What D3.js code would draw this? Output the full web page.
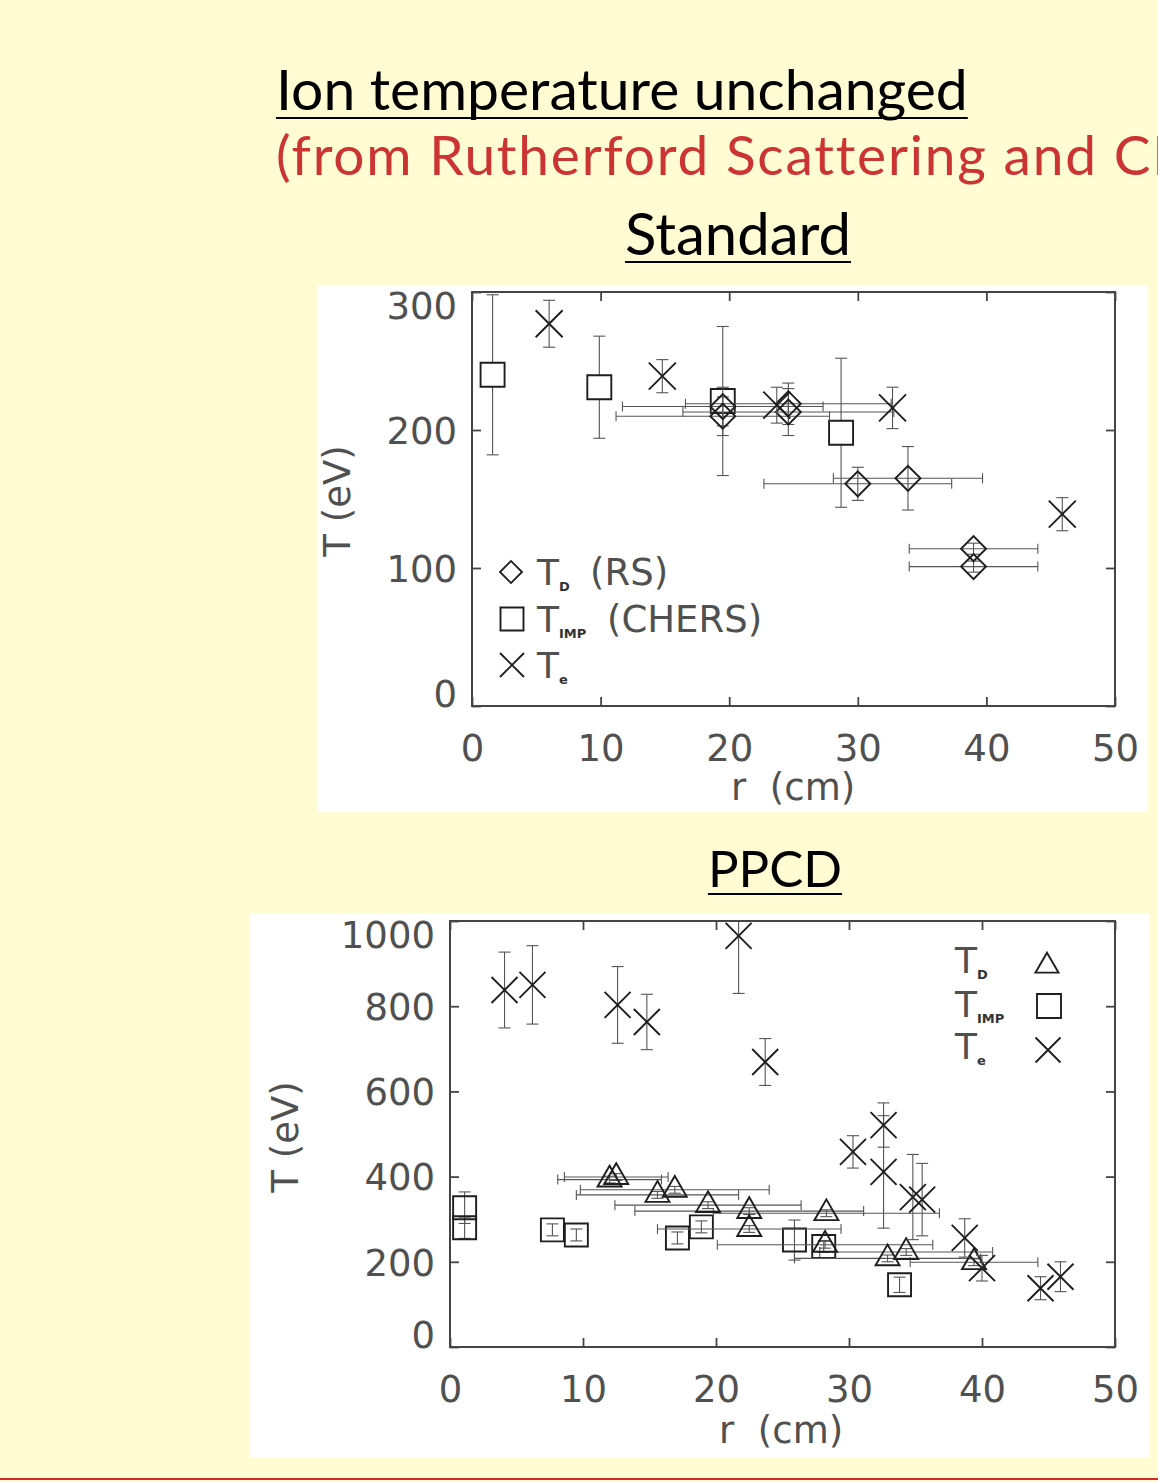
<!DOCTYPE html>
<html>
<head>
<meta charset="utf-8">
<script src="https://cdn.jsdelivr.net/npm/d3@7"></script>
<style>
  html, body { margin: 0; padding: 0; background: #fffbd3; }
  svg { display: block; }
</style>
</head>
<body>
<svg id="page" width="1158" height="1482"></svg>
<script>
// ---- text ----
const headTitle = "Ion temperature unchanged";
const headSource = "(from Rutherford Scattering and CHERS)";
const panelNames = ["Standard", "PPCD"];

// ---- axis ticks ----
const xTicks = [0, 10, 20, 30, 40, 50];
const yTicksStd = [0, 100, 200, 300];
const yTicksPpcd = [0, 200, 400, 600, 800, 1000];

// ---- Standard discharge ----
// Rutherford scattering T_D: [r (cm), T (eV), ±T, ±r]
const stdRS = [
  [19.5, 210, 14, 8.3],
  [19.5, 217, 14, 7.8],
  [24.6, 213, 17, 8.2],
  [24.6, 219, 15, 8.0],
  [30.0, 161, 12, 7.3],
  [33.9, 165, 23, 5.8],
  [39.0, 114, 4, 5.0],
  [39.0, 101, 4, 5.0]
];
// CHERS impurity temperature: [r, T, ±T]
const stdCHERS = [
  [1.6, 240, 58],
  [9.9, 231, 37],
  [19.5, 221, 54],
  [28.7, 198, 54]
];
// electron temperature: [r, T, ±T]
const stdTe = [
  [6.0, 277, 17],
  [14.8, 239, 12],
  [23.7, 218, 13],
  [32.7, 216, 15],
  [45.9, 139, 12]
];

// ---- PPCD discharge ----
// T_D: [r, T, ±T, ±r]
const ppcdTD = [
  [12.0, 393, 8, 3.9],
  [12.5, 399, 8, 3.9],
  [15.6, 357, 8, 6.1],
  [16.9, 369, 8, 7.1],
  [19.4, 333, 8, 7.0],
  [22.5, 319, 8, 8.6],
  [22.5, 277, 8, 6.9],
  [28.3, 314, 8, 8.5],
  [28.2, 240, 8, 8.1],
  [32.9, 208, 8, 7.0],
  [34.3, 223, 8, 6.5],
  [39.4, 199, 8, 4.8]
];
// T_IMP: [r, T, ±T]
const ppcdIMP = [
  [1.1, 327, 37],
  [1.1, 280, 25],
  [7.7, 275, 14],
  [9.5, 263, 14],
  [17.1, 256, 14],
  [18.9, 282, 14],
  [25.9, 251, 47],
  [28.1, 236, 14],
  [33.8, 146, 18]
];
// T_e: [r, T, ±T]
const ppcdTe = [
  [4.1, 838, 89],
  [6.2, 850, 92],
  [12.6, 803, 90],
  [14.8, 763, 65],
  [21.7, 965, 135],
  [23.7, 669, 55],
  [30.3, 458, 38],
  [32.6, 521, 52],
  [32.6, 411, 132],
  [34.8, 352, 100],
  [35.5, 346, 85],
  [38.7, 256, 45],
  [40.0, 185, 30],
  [44.4, 138, 27],
  [45.9, 165, 35]
];

// ---- drawing ----
const svg = d3.select("#page");
const INK = "#1e1e1e";
const AXIS = "#454545";
const LABEL = "#505050";
const FONT = "DejaVu Sans, sans-serif";
const HEAD_FONT = "Lato, 'Open Sans', sans-serif";

// symbol sizes (d3 symbol area units)
const timesSize = r => Math.pow(r / 0.6189, 2) + 1.7;
const sym = {
  square: s => d3.symbol(d3.symbolSquare, s * s)(),
  diamond: h => d3.symbol(d3.symbolSquare, 2 * h * h)(),
  triangle: w => d3.symbol(d3.symbolTriangle, Math.pow(w / (2 * Math.sqrt(3)), 2) * 3 * Math.sqrt(3))(),
  times: r => d3.symbol(d3.symbolTimes, timesSize(r))()
};

// header
const title = svg.append("text")
  .attr("x", 276).attr("y", 110)
  .attr("font-family", HEAD_FONT).attr("font-size", 57).attr("fill", "#000")
  .text(headTitle);
const tLen = title.node().getComputedTextLength();
svg.append("line").attr("x1", 276).attr("x2", 276 + tLen)
  .attr("y1", 118).attr("y2", 118).attr("stroke", "#000").attr("stroke-width", 2);

// source line runs past the right page edge
svg.append("text")
  .attr("x", 276).attr("y", 175)
  .attr("font-family", HEAD_FONT).attr("font-size", 55).attr("letter-spacing", 1.8)
  .attr("fill", "#cc3333")
  .text(headSource);

function panelTitle(txt, cx, base, size) {
  const t = svg.append("text")
    .attr("x", cx).attr("y", base).attr("text-anchor", "middle")
    .attr("font-family", HEAD_FONT).attr("font-size", size).attr("fill", "#000")
    .text(txt);
  const len = t.node().getComputedTextLength();
  svg.append("line").attr("x1", cx - len / 2).attr("x2", cx + len / 2)
    .attr("y1", base + 7).attr("y2", base + 7).attr("stroke", "#000").attr("stroke-width", 2);
}
panelTitle(panelNames[0], 738, 255, 58);
panelTitle(panelNames[1], 775, 887, 51);

// bottom rule
svg.append("line").attr("x1", 0).attr("x2", 1158).attr("y1", 1479).attr("y2", 1479)
  .attr("stroke", "#d42a2a").attr("stroke-width", 2);

function drawPanel(p) {
  const g = svg.append("g");
  g.append("rect")
    .attr("x", p.box[0]).attr("y", p.box[1])
    .attr("width", p.box[2] - p.box[0]).attr("height", p.box[3] - p.box[1])
    .attr("fill", "#fff");

  const x = d3.scaleLinear().domain([0, 50]).range([p.l, p.r]);
  const y = d3.scaleLinear().domain([0, p.yMax]).range([p.b, p.t]);
  const fmt = d3.format("d");

  const styleAxis = a => {
    a.select(".domain").remove();
    a.selectAll(".tick line").attr("stroke", AXIS).attr("stroke-width", 1.8);
    a.selectAll(".tick text").attr("font-family", FONT).attr("font-size", 37).attr("fill", LABEL);
  };

  g.append("g").attr("transform", `translate(0,${p.b})`)
    .call(d3.axisBottom(x).tickValues(xTicks).tickFormat(fmt).tickSizeInner(-9).tickSizeOuter(0))
    .call(styleAxis)
    .call(a => a.selectAll(".tick text").attr("y", 55).attr("dy", 0));
  g.append("g").attr("transform", `translate(0,${p.t})`)
    .call(d3.axisTop(x).tickValues(xTicks).tickSizeInner(-9).tickSizeOuter(0).tickFormat(""))
    .call(styleAxis);
  g.append("g").attr("transform", `translate(${p.l},0)`)
    .call(d3.axisLeft(y).tickValues(p.yTicks).tickFormat(fmt).tickSizeInner(-9).tickSizeOuter(0))
    .call(styleAxis)
    .call(a => a.selectAll(".tick text")
      .attr("x", -15).attr("dy", "0.36em")
      .attr("y", d => d === 0 ? -13 : d === p.yMax ? 13 : 0));
  g.append("g").attr("transform", `translate(${p.r},0)`)
    .call(d3.axisRight(y).tickValues(p.yTicks).tickSizeInner(-9).tickSizeOuter(0).tickFormat(""))
    .call(styleAxis);

  // axis titles
  g.append("text")
    .attr("transform", `translate(${p.yLabel[0]},${p.yLabel[1]}) rotate(-90)`)
    .attr("text-anchor", "middle")
    .attr("font-family", FONT).attr("font-size", 37).attr("fill", LABEL)
    .text("T (eV)");
  g.append("text")
    .attr("x", p.xLabel[0]).attr("y", p.xLabel[1])
    .attr("text-anchor", "middle").attr("word-spacing", 12)
    .attr("font-family", FONT).attr("font-size", 37).attr("fill", LABEL)
    .text("r (cm)");

  // data, clipped to the frame
  const clipId = "clip-" + p.id;
  svg.append("clipPath").attr("id", clipId)
    .append("rect").attr("x", p.l).attr("y", p.t).attr("width", p.r - p.l).attr("height", p.b - p.t);
  const data = g.append("g").attr("clip-path", `url(#${clipId})`);

  p.series.forEach(s => {
    const sg = data.append("g");
    const err = sg.append("g").attr("stroke", "#555").attr("stroke-width", 1.1).attr("fill", "none");
    s.values.forEach(d => {
      const [r, T, dT, dr] = d;
      const cx = x(r), cy = y(T);
      if (dT) {
        const y0 = y(T - dT), y1 = y(T + dT);
        err.append("line").attr("x1", cx).attr("x2", cx).attr("y1", y0).attr("y2", y1);
        err.append("line").attr("x1", cx - 6).attr("x2", cx + 6).attr("y1", y0).attr("y2", y0);
        err.append("line").attr("x1", cx - 6).attr("x2", cx + 6).attr("y1", y1).attr("y2", y1);
      }
      if (dr) {
        const x0 = x(r - dr), x1 = x(r + dr);
        err.append("line").attr("x1", x0).attr("x2", x1).attr("y1", cy).attr("y2", cy);
        err.append("line").attr("x1", x0).attr("x2", x0).attr("y1", cy - 5).attr("y2", cy + 5);
        err.append("line").attr("x1", x1).attr("x2", x1).attr("y1", cy - 5).attr("y2", cy + 5);
      }
    });
    sg.selectAll("path.mark").data(s.values).join("path")
      .attr("class", "mark")
      .attr("transform", d => `translate(${x(d[0])},${y(d[1])})${s.rotate ? " rotate(45)" : ""}`)
      .attr("d", s.path)
      .attr("fill", s.fill || "none")
      .attr("stroke", INK).attr("stroke-width", 1.9);
  });

  g.append("rect")
    .attr("x", p.l).attr("y", p.t).attr("width", p.r - p.l).attr("height", p.b - p.t)
    .attr("fill", "none").attr("stroke", AXIS).attr("stroke-width", 2);

  // legend
  p.legend.forEach(e => {
    g.append("path")
      .attr("transform", `translate(${e.sx},${e.sy})${e.rotate ? " rotate(45)" : ""}`)
      .attr("d", e.path).attr("fill", "none").attr("stroke", INK).attr("stroke-width", 1.9);
    const t = g.append("text")
      .attr("x", e.tx).attr("y", e.ty)
      .attr("font-family", FONT).attr("font-size", 36).attr("fill", LABEL);
    t.append("tspan").text("T");
    t.append("tspan").attr("dy", 6).attr("font-size", 13).attr("font-weight", "bold").attr("fill", "#333").text(e.sub);
    if (e.note) {
      g.append("text")
        .attr("x", e.nx).attr("y", e.ty)
        .attr("font-family", FONT).attr("font-size", 37).attr("fill", LABEL)
        .text(e.note);
    }
  });
}

drawPanel({
  id: "std",
  box: [317, 285, 1148, 812],
  l: 472, r: 1115, t: 292, b: 706,
  yMax: 300, yTicks: yTicksStd,
  yLabel: [350, 501], xLabel: [793, 800],
  series: [
    { values: stdCHERS, path: sym.square(24), fill: "#fff" },
    { values: stdRS, path: sym.diamond(12.5), rotate: true },
    { values: stdTe, path: sym.times(13.5) }
  ],
  legend: [
    { path: sym.diamond(11), rotate: true, sx: 511, sy: 572, tx: 537, ty: 585, sub: "D", note: "(RS)", nx: 590 },
    { path: sym.square(23), sx: 512, sy: 619, tx: 537, ty: 632, sub: "IMP", note: "(CHERS)", nx: 607 },
    { path: sym.times(12), sx: 512, sy: 665, tx: 537, ty: 678, sub: "e" }
  ]
});

drawPanel({
  id: "ppcd",
  box: [250, 913, 1150, 1458],
  l: 450, r: 1115, t: 921, b: 1347,
  yMax: 1000, yTicks: yTicksPpcd,
  yLabel: [298, 1137], xLabel: [781, 1443],
  series: [
    { values: ppcdIMP, path: sym.square(23) },
    { values: ppcdTD, path: sym.triangle(24) },
    { values: ppcdTe, path: sym.times(13) }
  ],
  legend: [
    { path: sym.triangle(23), sx: 1047, sy: 966, tx: 955, ty: 973, sub: "D" },
    { path: sym.square(24), sx: 1049, sy: 1006, tx: 955, ty: 1017, sub: "IMP" },
    { path: sym.times(12.5), sx: 1048, sy: 1050, tx: 955, ty: 1059, sub: "e" }
  ]
});
</script>
</body>
</html>
